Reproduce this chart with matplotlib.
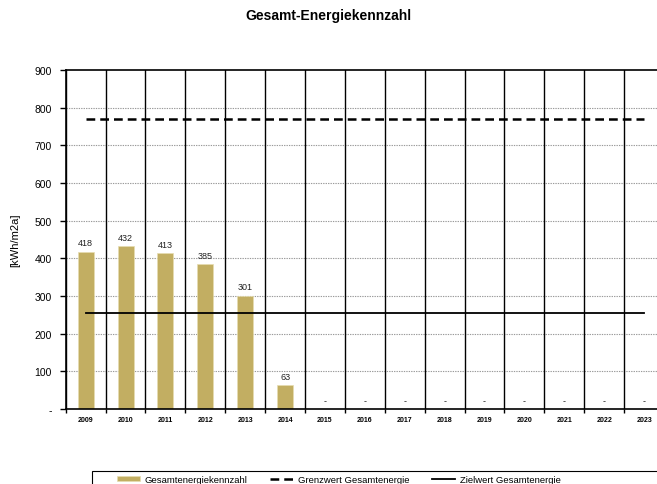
import numpy as np
import matplotlib
matplotlib.use("Agg")
import matplotlib.pyplot as plt
from matplotlib.patches import Rectangle

plt.rcParams['font.family'] = ['Liberation Sans', 'DejaVu Sans']

years = ["2009", "2010", "2011", "2012", "2013", "2014", "2015", "2016",
         "2017", "2018", "2019", "2020", "2021", "2022", "2023"]
kennzahl = [418, 432, 413, 385, 301, 63, 0, 0, 0, 0, 0, 0, 0, 0, 0]
grenzwert = 769
zielwert = 255
yticks = [0, 100, 200, 300, 400, 500, 600, 700, 800, 900]
ytick_labels = ["-", "100", "200", "300", "400", "500", "600", "700", "800", "900"]

fig = plt.figure(figsize=(6.57, 4.85), dpi=100)
ax = fig.add_axes([0.1, 0.1546, 0.9107, 0.699])

x = np.arange(len(years))
bar_color = "#C2AE62"

# vertical separators between years
for b in np.arange(len(years) + 1) - 0.5:
    ax.axvline(b, color="black", lw=1.0, zorder=1)

# dotted horizontal grid
for v in yticks[1:-1]:
    ax.axhline(v, color="#9a9a9a", lw=0.8, ls=(0, (1.2, 1.0)), zorder=0.5)

bars = ax.bar(x, kennzahl, width=0.4, color=bar_color, edgecolor="#E6DDB0",
              linewidth=0.5, zorder=2, label="Gesamtenergiekennzahl")

l_grenz, = ax.plot([x[0], x[-1]], [grenzwert, grenzwert], color="black", lw=1.8,
                   ls=(0, (3.5, 2.0)), zorder=3, label="Grenzwert Gesamtenergie")
l_ziel, = ax.plot([x[0], x[-1]], [zielwert, zielwert], color="black", lw=1.3,
                  zorder=3, label="Zielwert Gesamtenergie")

for xi, v in zip(x, kennzahl):
    lab = str(v) if v > 0 else "-"
    ax.annotate(lab, (xi, v), xytext=(0, 3), textcoords="offset points",
                ha="center", va="bottom", fontsize=6.5, color="#222222")

ax.set_xlim(-0.5, len(years) - 0.5)
ax.set_ylim(0, 900)
ax.set_yticks(yticks)
ax.set_yticklabels(ytick_labels, fontsize=7.5)
ax.set_xticks(x)
ax.set_xticklabels(years, fontsize=5, fontweight="bold")
ax.set_xticks(np.arange(len(years) + 1) - 0.5, minor=True)
ax.tick_params(axis="x", which="major", length=0, pad=5)
ax.tick_params(axis="x", which="minor", length=3, width=1, direction="out")
ax.tick_params(axis="y", length=4, width=1, direction="out", pad=6)

for s in ["left", "bottom", "top"]:
    ax.spines[s].set_linewidth(1.2)
ax.spines["right"].set_visible(False)

ax.set_ylabel("[kWh/m2a]", fontsize=8, labelpad=10)
fig.text(0.5, 0.966, "Gesamt-Energiekennzahl", ha="center", va="center",
         fontsize=10, fontweight="bold")

# legend box (runs off the right/bottom edge like the original)
fig.patches.append(Rectangle((92 / 657, -0.05), 1.0, 0.0268 + 0.05,
                             transform=fig.transFigure, fill=False,
                             edgecolor="black", lw=0.8))
leg = fig.legend([bars, l_grenz, l_ziel],
                 ["Gesamtenergiekennzahl", "Grenzwert Gesamtenergie",
                  "Zielwert Gesamtenergie"],
                 loc="upper left", bbox_to_anchor=(117 / 657, 0.0186),
                 ncol=3, fontsize=6.8, frameon=False, handlelength=2.4,
                 handletextpad=0.55, columnspacing=2.4,
                 borderaxespad=0, borderpad=0, handleheight=0.4)

fig.savefig("out.png", dpi=100)
